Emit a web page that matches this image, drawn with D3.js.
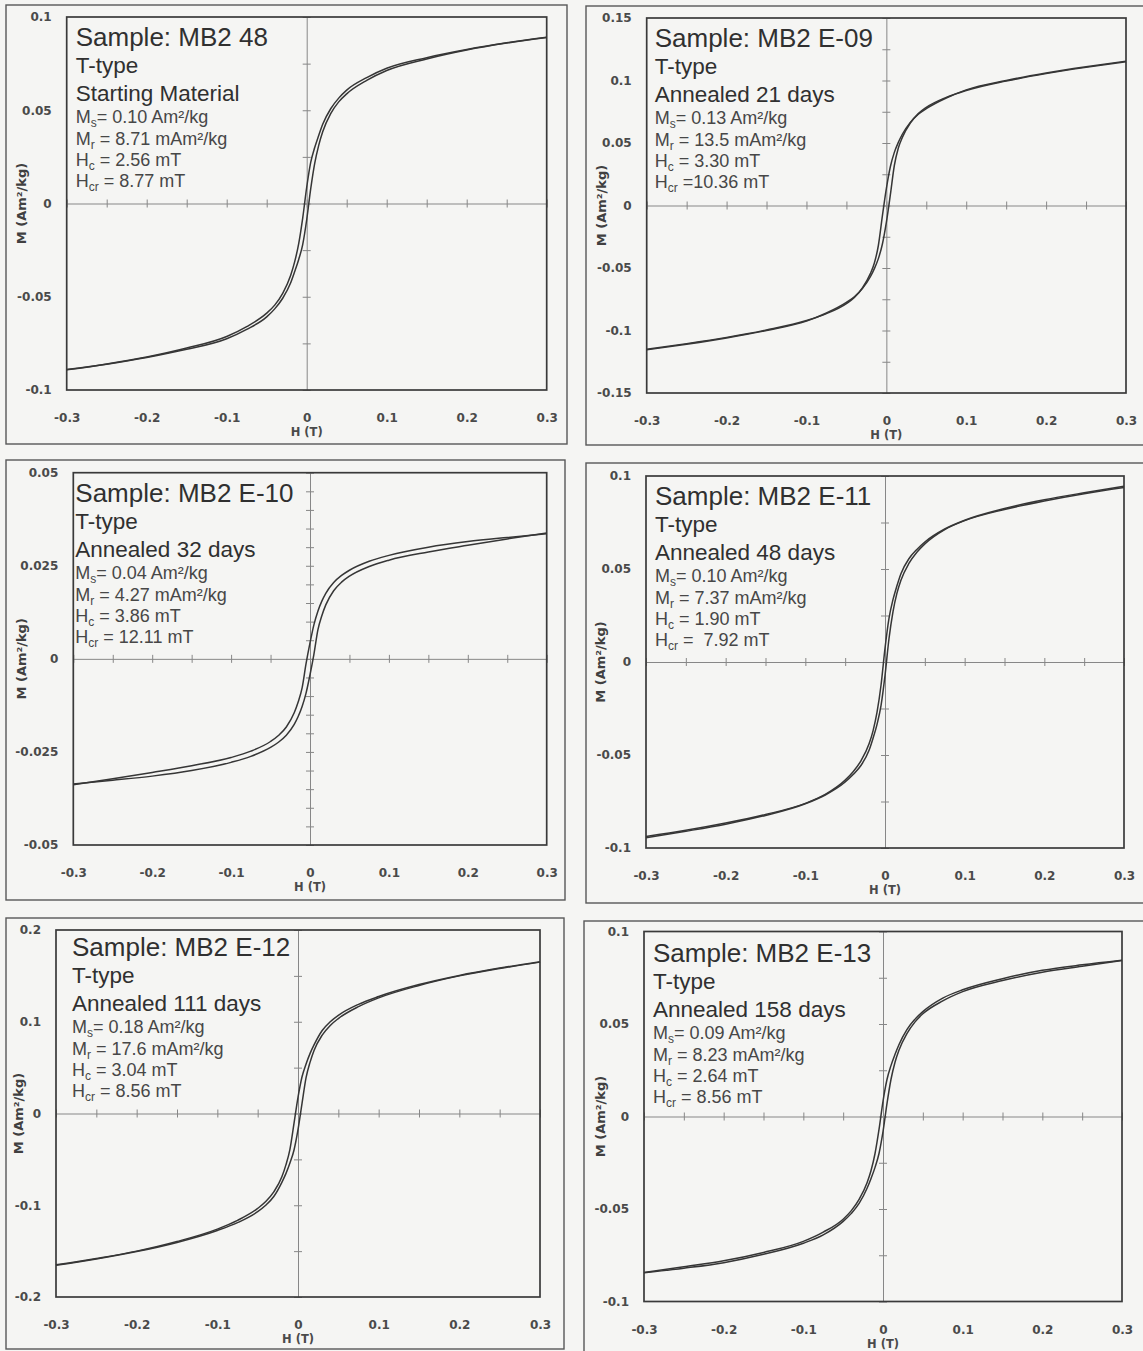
<!DOCTYPE html>
<html>
<head>
<meta charset="utf-8">
<script src="https://cdn.jsdelivr.net/npm/d3@7"></script>
<style>
  html, body { margin: 0; padding: 0; background: #f5f5f3; }
  svg { display: block; }
  text { white-space: pre; }
</style>
</head>
<body>
<svg id="fig" width="1143" height="1351"></svg>
<script>
// ---- Data -------------------------------------------------------------

// Applied field (T) at which both branches of every loop are sampled
const fieldT = [-0.3, -0.25, -0.2, -0.15, -0.1, -0.075, -0.05, -0.04, -0.03, -0.02, -0.015, -0.01, -0.005,
                0, 0.005, 0.01, 0.015, 0.02, 0.03, 0.04, 0.05, 0.075, 0.1, 0.15, 0.2, 0.25, 0.3];

// Sample descriptions
const sampleNames = ["MB2 48", "MB2 E-09", "MB2 E-10", "MB2 E-11", "MB2 E-12", "MB2 E-13"];
const sampleType  = ["T-type", "T-type", "T-type", "T-type", "T-type", "T-type"];
const treatments  = ["Starting Material", "Annealed 21 days", "Annealed 32 days",
                     "Annealed 48 days", "Annealed 111 days", "Annealed 158 days"];

// Hysteresis parameters as printed
const msText  = ["= 0.10 Am²/kg", "= 0.13 Am²/kg", "= 0.04 Am²/kg", "= 0.10 Am²/kg", "= 0.18 Am²/kg", "= 0.09 Am²/kg"];
const mrText  = [" = 8.71 mAm²/kg", " = 13.5 mAm²/kg", " = 4.27 mAm²/kg", " = 7.37 mAm²/kg", " = 17.6 mAm²/kg", " = 8.23 mAm²/kg"];
const hcText  = [" = 2.56 mT", " = 3.30 mT", " = 3.86 mT", " = 1.90 mT", " = 3.04 mT", " = 2.64 mT"];
const hcrText = [" = 8.77 mT", " =10.36 mT", " = 12.11 mT", " =\u00a0 7.92 mT", " = 8.56 mT", " = 8.56 mT"];

// Magnetisation M (Am²/kg): branch measured with decreasing field (upper)
// and with increasing field (lower), both listed in order of fieldT
const upperMB2_48 = [-0.0890, -0.0860, -0.0823, -0.0775, -0.0713, -0.0660, -0.0588, -0.0545, -0.0482, -0.0385, -0.0312, -0.0215, -0.0078,
                     0.00871, 0.0220, 0.0300, 0.0365, 0.0425, 0.0508, 0.0565, 0.0608, 0.0675, 0.0725, 0.0782, 0.0826, 0.0862, 0.0892];
const lowerMB2_48 = [-0.0892, -0.0862, -0.0826, -0.0782, -0.0725, -0.0675, -0.0608, -0.0565, -0.0508, -0.0425, -0.0365, -0.0300, -0.0220,
                     -0.00871, 0.0078, 0.0215, 0.0312, 0.0385, 0.0482, 0.0545, 0.0588, 0.0660, 0.0713, 0.0775, 0.0823, 0.0860, 0.0890];

const upperE09 = [-0.1150, -0.1105, -0.1055, -0.0995, -0.0920, -0.0865, -0.0785, -0.0735, -0.0660, -0.0545, -0.0460, -0.0320, -0.0085,
                  0.0135, 0.0310, 0.0425, 0.0505, 0.0570, 0.0665, 0.0730, 0.0775, 0.0860, 0.0925, 0.1000, 0.1060, 0.1110, 0.1155];
const lowerE09 = [-0.1155, -0.1110, -0.1060, -0.1000, -0.0925, -0.0860, -0.0775, -0.0730, -0.0665, -0.0570, -0.0505, -0.0425, -0.0310,
                  -0.0135, 0.0085, 0.0320, 0.0460, 0.0545, 0.0660, 0.0735, 0.0785, 0.0865, 0.0920, 0.0995, 0.1055, 0.1105, 0.1150];

const upperE10 = [-0.0338, -0.0322, -0.0305, -0.0287, -0.0265, -0.0248, -0.0222, -0.0206, -0.0183, -0.0145, -0.0116, -0.0078, -0.0013,
                  0.00427, 0.0092, 0.0128, 0.0155, 0.0176, 0.0205, 0.0224, 0.0238, 0.0262, 0.0278, 0.0300, 0.0315, 0.0326, 0.0336];
const lowerE10 = [-0.0336, -0.0326, -0.0315, -0.0300, -0.0278, -0.0262, -0.0238, -0.0224, -0.0205, -0.0176, -0.0155, -0.0128, -0.0092,
                  -0.00427, 0.0013, 0.0078, 0.0116, 0.0145, 0.0183, 0.0206, 0.0222, 0.0248, 0.0265, 0.0287, 0.0305, 0.0322, 0.0338];

const upperE11 = [-0.0938, -0.0905, -0.0866, -0.0820, -0.0760, -0.0712, -0.0635, -0.0590, -0.0530, -0.0440, -0.0370, -0.0270, -0.0125,
                  0.00737, 0.0235, 0.0335, 0.0410, 0.0475, 0.0555, 0.0605, 0.0645, 0.0715, 0.0762, 0.0825, 0.0872, 0.0910, 0.0945];
const lowerE11 = [-0.0945, -0.0910, -0.0872, -0.0825, -0.0762, -0.0715, -0.0645, -0.0605, -0.0555, -0.0475, -0.0410, -0.0335, -0.0235,
                  -0.00737, 0.0125, 0.0270, 0.0370, 0.0440, 0.0530, 0.0590, 0.0635, 0.0712, 0.0760, 0.0820, 0.0866, 0.0905, 0.0938];

const upperE12 = [-0.1650, -0.1580, -0.1500, -0.1395, -0.1260, -0.1165, -0.1035, -0.0960, -0.0855, -0.0690, -0.0560, -0.0390, -0.0110,
                  0.0176, 0.0400, 0.0540, 0.0655, 0.0750, 0.0905, 0.1000, 0.1070, 0.1190, 0.1275, 0.1405, 0.1505, 0.1585, 0.1655];
const lowerE12 = [-0.1655, -0.1585, -0.1505, -0.1405, -0.1275, -0.1190, -0.1070, -0.1000, -0.0905, -0.0750, -0.0655, -0.0540, -0.0400,
                  -0.0176, 0.0110, 0.0390, 0.0560, 0.0690, 0.0855, 0.0960, 0.1035, 0.1165, 0.1260, 0.1395, 0.1500, 0.1580, 0.1650];

const upperE13 = [-0.0843, -0.0812, -0.0780, -0.0735, -0.0675, -0.0625, -0.0555, -0.0510, -0.0448, -0.0358, -0.0292, -0.0200, -0.0070,
                  0.00823, 0.0200, 0.0275, 0.0335, 0.0388, 0.0470, 0.0525, 0.0567, 0.0640, 0.0685, 0.0745, 0.0790, 0.0820, 0.0845];
const lowerE13 = [-0.0845, -0.0820, -0.0790, -0.0745, -0.0685, -0.0640, -0.0567, -0.0525, -0.0470, -0.0388, -0.0335, -0.0275, -0.0200,
                  -0.00823, 0.0070, 0.0200, 0.0292, 0.0358, 0.0448, 0.0510, 0.0555, 0.0625, 0.0675, 0.0735, 0.0780, 0.0812, 0.0843];

const upperBranches = [upperMB2_48, upperE09, upperE10, upperE11, upperE12, upperE13];
const lowerBranches = [lowerMB2_48, lowerE09, lowerE10, lowerE11, lowerE12, lowerE13];

// Axis extents and tick labels
const xTickLabels = [-0.3, -0.2, -0.1, 0, 0.1, 0.2, 0.3];
const xMinorStep = 0.05;
const yMax = [0.1, 0.15, 0.05, 0.1, 0.2, 0.1];
const yTickLabels = [
  [-0.1, -0.05, 0, 0.05, 0.1],
  [-0.15, -0.1, -0.05, 0, 0.05, 0.1, 0.15],
  [-0.05, -0.025, 0, 0.025, 0.05],
  [-0.1, -0.05, 0, 0.05, 0.1],
  [-0.2, -0.1, 0, 0.1, 0.2],
  [-0.1, -0.05, 0, 0.05, 0.1]
];
const yMinorStep = [0.025, 0.025, 0.005, 0.025, 0.05, 0.025];

// ---- Layout -------------------------------------------------------------
// frame: outer box [x0, y0, x1, y1]; plot: inner plot area [x0, y0, x1, y1]
// note: text block offset from plot corner; titleX: centre of rotated y title
const layout = [
  { frame: [6, 5, 567, 444],     plot: [66.7, 17, 546.7, 390],   note: [9, 0],  titleX: 21 },
  { frame: [586, 6, 1160, 445],  plot: [646.7, 18, 1126, 393],   note: [8, 0],  titleX: 601 },
  { frame: [6, 460, 565, 900],   plot: [73.3, 472.7, 546.7, 845], note: [2, 0], titleX: 21 },
  { frame: [586, 463, 1160, 903], plot: [646, 476, 1124, 848],   note: [9, 0],  titleX: 600 },
  { frame: [6, 918, 564, 1349],  plot: [56, 930, 540, 1297],     note: [16, -3], titleX: 18 },
  { frame: [584, 921, 1160, 1380], plot: [644, 931.5, 1122, 1301.5], note: [9, 1], titleX: 600 }
];
const noteLineOffsets = [29, 56, 84, 106, 128, 149, 170];

const tickFont = "'DejaVu Sans', sans-serif";
const noteFont = "'Liberation Sans', Arial, sans-serif";
const fmtTick = d => String(d);

// ---- Drawing ------------------------------------------------------------
const svg = d3.select("#fig");
svg.append("rect").attr("width", 1143).attr("height", 1351).attr("fill", "#f5f5f3");

function minorValues(maxAbs, step) {
  const n = Math.round(maxAbs / step);
  return d3.range(-n, n + 1).map(k => +(k * step).toFixed(4));
}

layout.forEach((L, i) => {
  const [pl, pt, pr, pb] = L.plot;
  const [fx0, fy0, fx1, fy1] = L.frame;
  const x = d3.scaleLinear().domain([-0.3, 0.3]).range([pl, pr]);
  const y = d3.scaleLinear().domain([-yMax[i], yMax[i]]).range([pb, pt]);
  const g = svg.append("g");

  // outer chart box
  g.append("rect")
    .attr("x", fx0).attr("y", fy0)
    .attr("width", fx1 - fx0).attr("height", fy1 - fy0)
    .attr("fill", "none").attr("stroke", "#585858").attr("stroke-width", 1.4);

  // horizontal axis through M = 0, ticks crossing the line
  g.append("g")
    .attr("transform", `translate(0,${y(0)})`)
    .call(d3.axisBottom(x).tickValues(minorValues(0.3, xMinorStep)).tickSize(4).tickSizeOuter(0).tickFormat(""))
    .call(a => {
      a.select(".domain").attr("stroke", "#878787").attr("stroke-width", 1);
      a.selectAll(".tick line").attr("y1", -4).attr("y2", 4).attr("stroke", "#878787");
    });

  // vertical axis through H = 0
  g.append("g")
    .attr("transform", `translate(${x(0)},0)`)
    .call(d3.axisLeft(y).tickValues(minorValues(yMax[i], yMinorStep[i])).tickSize(4).tickSizeOuter(0).tickFormat(""))
    .call(a => {
      a.select(".domain").attr("stroke", "#878787").attr("stroke-width", 1);
      a.selectAll(".tick line").attr("x1", -4).attr("x2", 4).attr("stroke", "#878787");
    });

  // value labels along the left edge
  g.append("g")
    .attr("transform", `translate(${pl - 15},0)`)
    .call(d3.axisLeft(y).tickValues(yTickLabels[i]).tickSize(0).tickPadding(0).tickFormat(fmtTick))
    .call(a => {
      a.select(".domain").remove();
      a.attr("font-family", tickFont).attr("font-size", 12).attr("font-weight", "bold");
      a.selectAll("text").attr("fill", "#4a4a4a");
    });

  // field labels below the plot
  g.append("g")
    .attr("transform", `translate(0,${pb})`)
    .call(d3.axisBottom(x).tickValues(xTickLabels).tickSize(0).tickPadding(23.5).tickFormat(fmtTick))
    .call(a => {
      a.select(".domain").remove();
      a.attr("font-family", tickFont).attr("font-size", 12).attr("font-weight", "bold");
      a.selectAll("text").attr("fill", "#4a4a4a");
    });

  // axis titles
  g.append("text")
    .attr("x", x(0)).attr("y", pb + 46)
    .attr("text-anchor", "middle")
    .attr("font-family", tickFont).attr("font-size", 11.5).attr("font-weight", "bold")
    .attr("fill", "#4a4a4a")
    .text("H (T)");
  g.append("text")
    .attr("transform", `translate(${L.titleX},${(pt + pb) / 2}) rotate(-90)`)
    .attr("text-anchor", "middle").attr("dominant-baseline", "central")
    .attr("font-family", tickFont).attr("font-size", 13).attr("font-weight", "bold")
    .attr("fill", "#404040")
    .text("M (Am²/kg)");

  // plot area border
  g.append("rect")
    .attr("x", pl).attr("y", pt)
    .attr("width", pr - pl).attr("height", pb - pt)
    .attr("fill", "none").attr("stroke", "#3a3a3a").attr("stroke-width", 1.7);

  // hysteresis loop: two branches
  const line = d3.line()
    .x((d, j) => x(fieldT[j]))
    .y(d => y(d))
    .curve(d3.curveMonotoneX);
  [upperBranches[i], lowerBranches[i]].forEach(branch => {
    g.append("path")
      .datum(branch)
      .attr("d", line)
      .attr("fill", "none")
      .attr("stroke", "#363636")
      .attr("stroke-width", 1.5)
      .attr("stroke-linejoin", "round");
  });

  // annotation block
  const nx = pl + L.note[0];
  const ny = pt + L.note[1];
  const note = g.append("g").attr("font-family", noteFont);
  note.append("text").attr("x", nx).attr("y", ny + noteLineOffsets[0])
    .attr("font-size", 26).attr("fill", "#303030")
    .text("Sample: " + sampleNames[i]);
  note.append("text").attr("x", nx).attr("y", ny + noteLineOffsets[1])
    .attr("font-size", 22.5).attr("fill", "#303030")
    .text(sampleType[i]);
  note.append("text").attr("x", nx).attr("y", ny + noteLineOffsets[2])
    .attr("font-size", 22.5).attr("fill", "#303030")
    .text(treatments[i]);

  const params = [["M", "s", msText[i]], ["M", "r", mrText[i]], ["H", "c", hcText[i]], ["H", "cr", hcrText[i]]];
  params.forEach((p, k) => {
    const t = note.append("text")
      .attr("x", nx).attr("y", ny + noteLineOffsets[3 + k])
      .attr("font-size", 18).attr("fill", "#474747");
    t.append("tspan").text(p[0]);
    t.append("tspan").attr("font-size", 12).attr("dy", 4).text(p[1]);
    t.append("tspan").attr("dy", -4).text(p[2].replace(/^ /, "\u00a0"));
  });
});
</script>
</body>
</html>
